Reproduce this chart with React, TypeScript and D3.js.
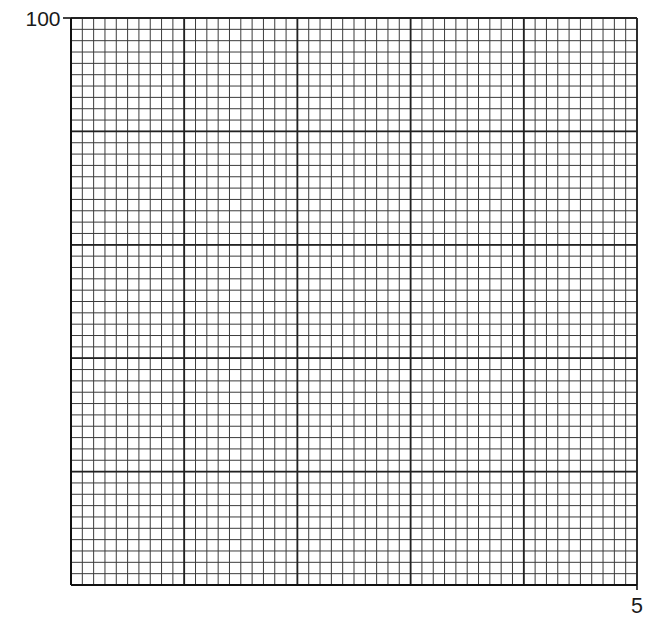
import React from "react";
import * as d3 from "d3";

const xDomain = [0, 5];
const yDomain = [0, 100];
const xTickLabels = [5];
const yTickLabels = [100];
const xMajorStep = 1;
const yMajorStep = 20;
const minorPerMajor = 10;

const W = 662;
const H = 633;
const margin = { left: 71, right: 25, top: 18, bottom: 48 };

export default function App() {
  const x = d3.scaleLinear().domain(xDomain).range([margin.left, W - margin.right]);
  const y = d3.scaleLinear().domain(yDomain).range([H - margin.bottom, margin.top]);

  const xMinorStep = xMajorStep / minorPerMajor;
  const yMinorStep = yMajorStep / minorPerMajor;
  const nxMinor = Math.round((xDomain[1] - xDomain[0]) / xMinorStep);
  const nyMinor = Math.round((yDomain[1] - yDomain[0]) / yMinorStep);

  const xMinor = d3.range(0, nxMinor + 1).map((i) => xDomain[0] + i * xMinorStep);
  const yMinor = d3.range(0, nyMinor + 1).map((i) => yDomain[0] + i * yMinorStep);
  const xMajor = d3.range(0, nxMinor / minorPerMajor + 1).map((i) => xDomain[0] + i * xMajorStep);
  const yMajor = d3.range(0, nyMinor / minorPerMajor + 1).map((i) => yDomain[0] + i * yMajorStep);

  const [x0, x1] = x.range();
  const [y0, y1] = y.range();

  return (
    <svg
      width={W}
      height={H}
      style={{ position: "absolute", left: 0, top: 0, background: "#fff" }}
      fontFamily="'Liberation Sans', Arial, sans-serif"
    >
      <g>
        {xMinor.map((v, i) => (
          <line key={"xm" + i} x1={x(v)} x2={x(v)} y1={y0} y2={y1} stroke="#3c3c3c" strokeWidth={1} />
        ))}
        {yMinor.map((v, i) => (
          <line key={"ym" + i} x1={x0} x2={x1} y1={y(v)} y2={y(v)} stroke="#3c3c3c" strokeWidth={1} />
        ))}
      </g>
      <g>
        {xMajor.map((v, i) => (
          <line key={"xM" + i} x1={x(v)} x2={x(v)} y1={y0} y2={y1} stroke="#222" strokeWidth={1.8} />
        ))}
        {yMajor.map((v, i) => (
          <line key={"yM" + i} x1={x0} x2={x1} y1={y(v)} y2={y(v)} stroke="#222" strokeWidth={1.8} />
        ))}
      </g>
      {/* axes */}
      <line x1={x0} x2={x0} y1={y0} y2={y1} stroke="#111" strokeWidth={2} />
      <line x1={x0} x2={x1} y1={y0} y2={y0} stroke="#111" strokeWidth={2} />
      {yTickLabels.map((v) => (
        <g key={"yt" + v}>
          <line x1={x0 - 8} x2={x0} y1={y(v)} y2={y(v)} stroke="#111" strokeWidth={1.6} />
          <text x={x0 - 10.5} y={y(v) + 8} textAnchor="end" fontSize={21} fill="#1a1a1a">
            {v}
          </text>
        </g>
      ))}
      {xTickLabels.map((v) => (
        <g key={"xt" + v}>
          <line x1={x(v)} x2={x(v)} y1={y0} y2={y0 + 5} stroke="#111" strokeWidth={1.6} />
          <text x={x(v)} y={y0 + 28} textAnchor="middle" fontSize={21.5} fill="#1a1a1a">
            {v}
          </text>
        </g>
      ))}
    </svg>
  );
}
